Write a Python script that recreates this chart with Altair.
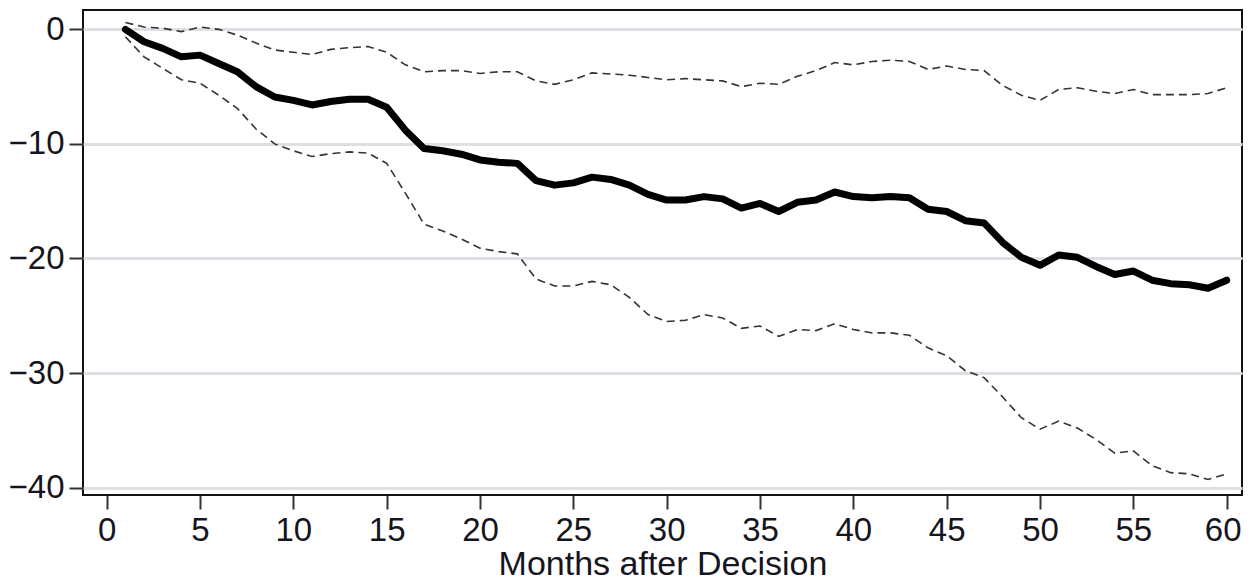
import altair as alt
import pandas as pd

months = list(range(1, 61))

estimate = [0.0, -1.08, -1.66, -2.4, -2.25, -2.98, -3.7, -5.0, -5.9, -6.2,
            -6.6, -6.3, -6.1, -6.1, -6.8, -8.8, -10.4, -10.6, -10.9, -11.4,
            -11.6, -11.7, -13.2, -13.6, -13.4, -12.9, -13.1, -13.6, -14.4, -14.9,
            -14.9, -14.6, -14.8, -15.6, -15.2, -15.9, -15.1, -14.9, -14.2, -14.6,
            -14.7, -14.6, -14.7, -15.7, -15.9, -16.7, -16.9, -18.6, -19.9, -20.6,
            -19.7, -19.9, -20.7, -21.4, -21.1, -21.9, -22.2, -22.3, -22.6, -21.9]

upper = [0.6, 0.2, 0.1, -0.2, 0.2, 0.0, -0.5, -1.2, -1.8, -2.0,
         -2.2, -1.75, -1.6, -1.5, -2.0, -3.1, -3.7, -3.6, -3.6, -3.85,
         -3.7, -3.7, -4.5, -4.8, -4.4, -3.8, -3.9, -4.0, -4.2, -4.4,
         -4.3, -4.4, -4.5, -5.0, -4.7, -4.8, -4.1, -3.6, -2.9, -3.1,
         -2.8, -2.7, -2.8, -3.5, -3.2, -3.5, -3.6, -4.9, -5.75, -6.2,
         -5.25, -5.1, -5.4, -5.6, -5.25, -5.7, -5.7, -5.7, -5.6, -5.1]

lower = [-0.65, -2.4, -3.4, -4.4, -4.7, -5.75, -6.9, -8.7, -10.0, -10.6,
         -11.1, -10.85, -10.7, -10.8, -11.7, -14.3, -17.0, -17.6, -18.3, -19.1,
         -19.4, -19.6, -21.8, -22.4, -22.4, -22.0, -22.3, -23.4, -24.9, -25.5,
         -25.4, -24.9, -25.2, -26.1, -25.9, -26.8, -26.2, -26.3, -25.7, -26.2,
         -26.5, -26.5, -26.7, -27.8, -28.5, -29.8, -30.4, -32.1, -33.9, -34.9,
         -34.2, -34.8, -35.8, -37.0, -36.8, -38.1, -38.7, -38.8, -39.3, -38.8]

x_ticks = [0, 5, 10, 15, 20, 25, 30, 35, 40, 45, 50, 55, 60]
y_ticks = [0, -10, -20, -30, -40]

df = pd.DataFrame({"month": months, "estimate": estimate, "upper": upper, "lower": lower})

FONT = "Liberation Sans"
TXT = "#151520"

x_enc = alt.X(
    "month:Q",
    scale=alt.Scale(domain=[-1.27, 60.82], nice=False, zero=False),
    axis=alt.Axis(
        values=x_ticks, title="Months after Decision", grid=False, domain=False,
        tickSize=14, tickWidth=2, tickColor="#333333", labelPadding=5,
        labelFontSize=33, titleFontSize=34, labelFont=FONT, titleFont=FONT,
        labelColor=TXT, titleColor=TXT, titleFontWeight="normal", titlePadding=0,
        labelFlush=False,
        labelOffset=alt.ExprRef("datum.value == 60 ? -4 : 0"),
    ),
)

y_axis = alt.Axis(
    values=y_ticks, title=None, grid=True, gridColor="#dedee4", gridWidth=3,
    domain=False, tickSize=14, tickWidth=2, tickColor="#333333", labelPadding=5,
    labelFontSize=33, labelFont=FONT, labelColor=TXT, labelFlush=False,
)

def y_enc(field):
    return alt.Y(
        f"{field}:Q",
        scale=alt.Scale(domain=[-40.65, 1.69], nice=False, zero=False),
        axis=y_axis,
    )

base = alt.Chart(df)

upper_line = base.mark_line(color="#333333", strokeWidth=1.6, strokeDash=[8, 5]).encode(
    x=x_enc, y=y_enc("upper")
)
lower_line = base.mark_line(color="#333333", strokeWidth=1.6, strokeDash=[8, 5]).encode(
    x=x_enc, y=y_enc("lower")
)
main_line = base.mark_line(color="#000000", strokeWidth=7, strokeJoin="round", strokeCap="round").encode(
    x=x_enc, y=y_enc("estimate")
)

chart = (
    alt.layer(upper_line, lower_line, main_line)
    .properties(
        width=1159, height=485,
        autosize=alt.AutoSizeParams(type="none"),
        padding={"left": 75, "top": 2, "right": 1, "bottom": 81},
        background="white",
    )
    .configure_view(stroke="#111111", strokeWidth=2)
)

chart.save("out.html", embed_options={"renderer": "svg", "actions": False})
